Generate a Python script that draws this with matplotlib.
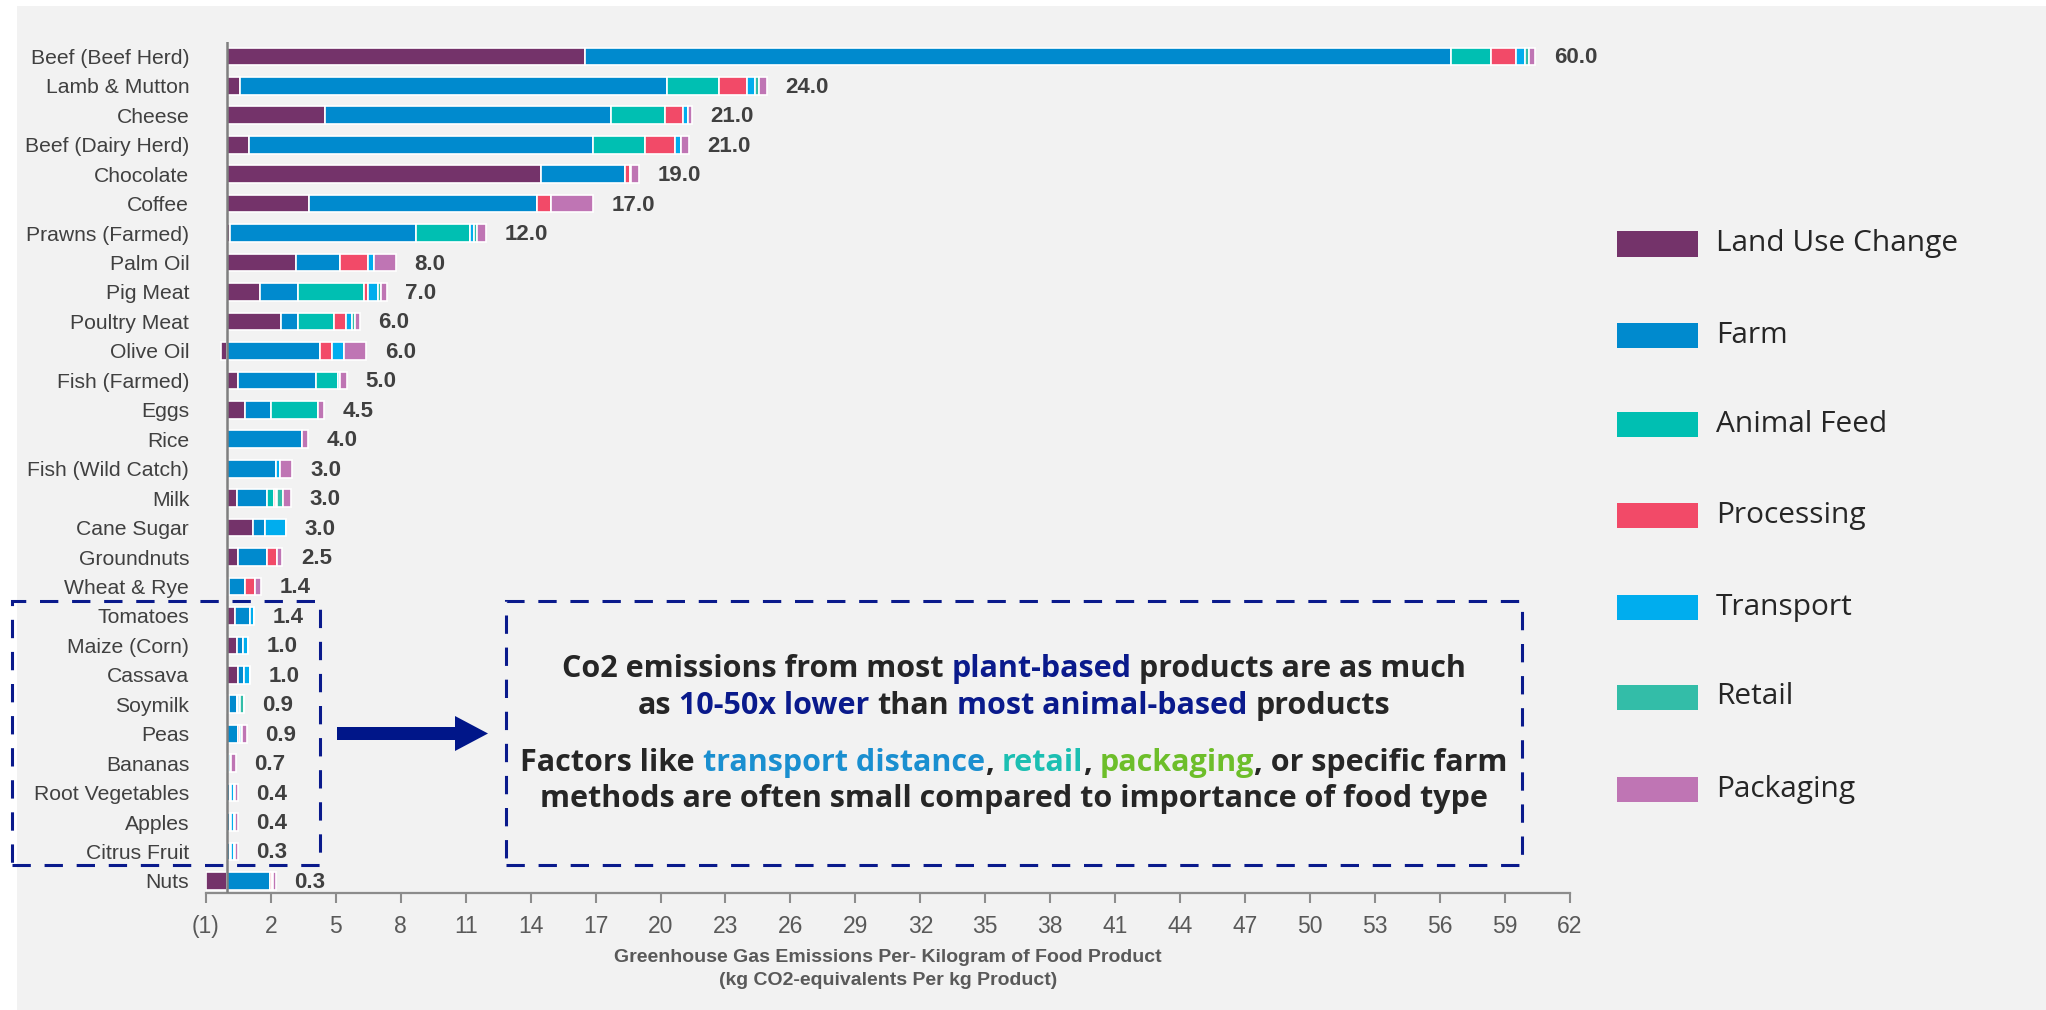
import matplotlib
matplotlib.use("Agg")
import matplotlib.pyplot as plt
from matplotlib.patches import Rectangle, Polygon
import numpy as np

# ---- data (kg CO2-eq per kg product) ----
foods = ["Beef (Beef Herd)", "Lamb & Mutton", "Cheese", "Beef (Dairy Herd)", "Chocolate",
         "Coffee", "Prawns (Farmed)", "Palm Oil", "Pig Meat", "Poultry Meat", "Olive Oil",
         "Fish (Farmed)", "Eggs", "Rice", "Fish (Wild Catch)", "Milk", "Cane Sugar",
         "Groundnuts", "Wheat & Rye", "Tomatoes", "Maize (Corn)", "Cassava", "Soymilk",
         "Peas", "Bananas", "Root Vegetables", "Apples", "Citrus Fruit", "Nuts"]

land_use   = [16.5, 0.56, 4.5, 1.0, 14.47, 3.77, 0.12, 3.17, 1.51, 2.45, -0.28, 0.51, 0.8, 0, 0,
              0.42, 1.17, 0.51, 0.08, 0.34, 0.42, 0.51, 0.07, 0, 0, 0, 0, 0, -1.0]
farm       = [40.0, 19.75, 13.2, 15.86, 3.88, 10.52, 8.57, 2.03, 1.77, 0.83, 4.28, 3.6, 1.2, 3.46, 2.26,
              1.4, 0.55, 1.31, 0.72, 0.69, 0.29, 0.26, 0.36, 0.51, 0.08, 0.12, 0.12, 0.12, 1.97]
feed       = [1.85, 2.37, 2.5, 2.42, 0, 0, 2.5, 0, 3.03, 1.64, 0, 1.01, 2.2, 0, 0,
              0.35, 0, 0, 0, 0, 0, 0, 0, 0, 0, 0, 0, 0, 0]
processing = [1.15, 1.3, 0.82, 1.38, 0.25, 0.66, 0, 1.29, 0.18, 0.57, 0.57, 0, 0, 0, 0,
              0.07, 0, 0.46, 0.46, 0, 0, 0, 0.07, 0.07, 0, 0.05, 0.05, 0.05, 0.07]
transport  = [0.4, 0.38, 0.27, 0.27, 0.05, 0, 0.2, 0.28, 0.46, 0.28, 0.54, 0.1, 0, 0, 0.17,
              0.07, 1.0, 0, 0, 0.2, 0.24, 0.28, 0.07, 0.08, 0.08, 0.15, 0.15, 0.15, 0.08]
retail     = [0.2, 0.2, 0, 0, 0, 0, 0.15, 0, 0.12, 0.12, 0, 0, 0, 0, 0,
              0.24, 0, 0, 0, 0, 0, 0, 0.2, 0, 0, 0.05, 0.05, 0.05, 0]
packaging  = [0.3, 0.36, 0.15, 0.37, 0.37, 1.92, 0.4, 1.0, 0.28, 0.23, 1.03, 0.3, 0.26, 0.28, 0.57,
              0.37, 0, 0.26, 0.28, 0, 0, 0, 0, 0.22, 0.22, 0.1, 0.1, 0.1, 0.13]
totals     = [60.0, 24.0, 21.0, 21.0, 19.0, 17.0, 12.0, 8.0, 7.0, 6.0, 6.0, 5.0, 4.5, 4.0, 3.0,
              3.0, 3.0, 2.5, 1.4, 1.4, 1.0, 1.0, 0.9, 0.9, 0.7, 0.4, 0.4, 0.3, 0.3]

stages = ["Land Use Change", "Farm", "Animal Feed", "Processing", "Transport", "Retail", "Packaging"]
colors = ["#74336A", "#008ACE", "#00BFB2", "#F24A68", "#00ADEE", "#33BDA8", "#BF75B4"]
series = [land_use, farm, feed, processing, transport, retail, packaging]

NARROW = ["Liberation Sans Narrow", "Liberation Sans", "DejaVu Sans"]
SANS = ["Open Sans", "DejaVu Sans"]
NAVY = "#0A1A8C"

W, H = 2046, 1010
fig = plt.figure(figsize=(W / 100, H / 100), dpi=100, facecolor="white")
fig.add_artist(Rectangle((17 / W, 0), 1, 1 - 6 / H, transform=fig.transFigure,
                         facecolor="#F2F2F2", edgecolor="none", zorder=-10))

ax = fig.add_axes([205.8 / W, 1 - 893 / H, (1570 - 205.8) / W, (893 - 41.7) / H])
ax.set_facecolor("none")

y = np.arange(len(foods))
pos_left = np.zeros(len(foods))
for vals, col, name in zip(series, colors, stages):
    v = np.array(vals, dtype=float)
    left = np.where(v < 0, 0, pos_left)
    ax.barh(y, v, left=left, height=0.6, color=col, edgecolor="white", linewidth=1.2, label=name)
    pos_left = pos_left + np.clip(v, 0, None)

for yi, end, t in zip(y, pos_left, totals):
    ax.text(end + 0.85, yi + 0.05, f"{t:.1f}", va="center", ha="left", fontsize=16,
            fontweight="bold", color="#404040", family=NARROW)

ax.set_xlim(-1, 62)
ax.set_ylim(len(foods) - 1 + 0.41, -0.5)
ticks = np.arange(-1, 63, 3)
ax.set_xticks(ticks)
ax.set_xticklabels(["(1)" if t < 0 else str(t) for t in ticks], family=NARROW)
ax.set_yticks(y)
ax.set_yticklabels(foods, family=NARROW)
ax.tick_params(axis="x", direction="out", length=7, width=1.5, color="#8C8C8C",
               labelsize=16.5, labelcolor="#595959", pad=9)
ax.tick_params(axis="y", length=0, labelsize=15.2, labelcolor="#404040", pad=12)
for s in ["top", "right", "left"]:
    ax.spines[s].set_visible(False)
ax.spines["bottom"].set_color("#8C8C8C")
ax.spines["bottom"].set_linewidth(1.6)
ax.axvline(0, color="#7F7F7F", lw=1.8, zorder=5)

ax.set_xlabel("Greenhouse Gas Emissions Per- Kilogram of Food Product\n(kg CO2-equivalents Per kg Product)",
              fontsize=14, fontweight="bold", color="#595959", family=NARROW, labelpad=8,
              linespacing=1.45)

# ---- legend on the right ----
leg_y = [244, 335, 425, 515, 607, 697, 789]
for name, col, yy in zip(stages, colors, leg_y):
    fig.add_artist(Rectangle((1617 / W, 1 - (yy + 12.5) / H), 81 / W, 25 / H,
                             transform=fig.transFigure, facecolor=col, edgecolor="none"))
    fig.text(1716 / W, 1 - yy / H, name, fontsize=21.5, color="#262626", family=SANS,
             ha="left", va="center")


def fx(px):
    return px / W


def fy(py):
    return 1 - py / H


# dashed boxes
for x0, x1 in [(12, 320), (506, 1522)]:
    fig.add_artist(Rectangle((fx(x0), fy(865)), fx(x1 - x0), (865 - 601) / H,
                             transform=fig.transFigure, fill=False, edgecolor=NAVY,
                             linewidth=2.2, linestyle=(0, (6, 4.5))))

# arrow
arrow_pts = [(337, 727), (455, 727), (455, 716), (488, 733.5), (455, 751), (455, 740), (337, 740)]
fig.add_artist(Polygon([(fx(a), fy(b)) for a, b in arrow_pts], closed=True,
                       transform=fig.transFigure, facecolor="#001689", edgecolor="none"))

# rich text lines in the box
DARK = "#262626"
lines = [
    (669, [("Co2 emissions from most", DARK), ("plant-based", NAVY), ("products are as much", DARK)],
     [True, True]),
    (706, [("as", DARK), ("10-50x lower", NAVY), ("than", DARK), ("most animal-based", NAVY),
           ("products", DARK)], [True, True, True, True]),
    (763, [("Factors like", DARK), ("transport distance", "#1A8FD0"), (",", DARK), ("retail", "#1CBFB2"),
           (",", DARK), ("packaging", "#6DBE2A"), (", or specific farm", DARK)],
     [True, False, True, False, True, False]),
    (799, [("methods are often small compared to importance of food type", DARK)], []),
]
renderer = fig.canvas.get_renderer()
txt_kw = dict(fontsize=22, fontweight="bold", family=SANS, va="center", ha="left")
probe1 = fig.text(0, 0, "a a", **txt_kw)
probe2 = fig.text(0, 0, "aa", **txt_kw)
space_w = probe1.get_window_extent(renderer).width - probe2.get_window_extent(renderer).width
probe1.remove()
probe2.remove()

cx = 1014
for yy, parts, gaps in lines:
    objs = [fig.text(0, fy(yy), s, color=c, **txt_kw) for s, c in parts]
    widths = [o.get_window_extent(renderer).width for o in objs]
    total = sum(widths) + space_w * sum(gaps)
    x = cx - total / 2
    for i, o in enumerate(objs):
        o.set_x(fx(x))
        x += widths[i]
        if i < len(gaps) and gaps[i]:
            x += space_w

fig.savefig("out.png", dpi=100, facecolor=fig.get_facecolor())
